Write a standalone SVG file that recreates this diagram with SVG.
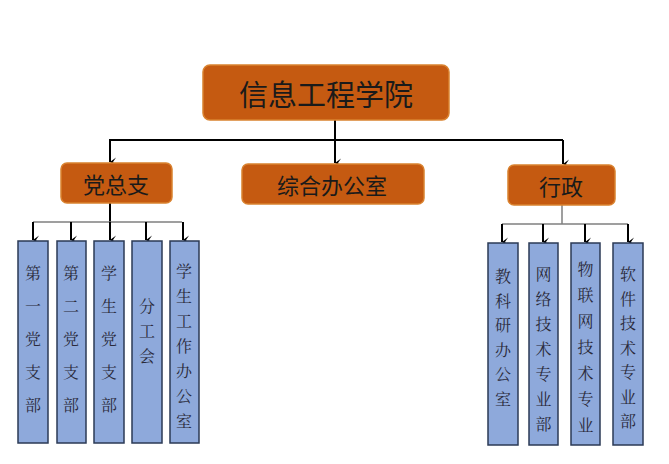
<svg xmlns="http://www.w3.org/2000/svg" width="669" height="464" viewBox="0 0 669 464">
<style>
.org{fill:#C55A11;stroke:#D9822F;stroke-width:1.5}
.leaf{fill:#8EA9DB;stroke:#2B3A55;stroke-width:1.5}
.big{font-family:"Noto Sans CJK SC",sans-serif;fill:#1a1a1a;text-anchor:middle;dominant-baseline:central}
.sm{font-family:"Noto Serif CJK SC","Noto Sans CJK SC",serif;font-size:16px;fill:#2a2a3a;text-anchor:middle;dominant-baseline:central}
.main{stroke:#000;stroke-width:2;fill:none}
.sub{stroke:#7f7f7f;stroke-width:1.5;fill:none}
.arr{stroke:#000;stroke-width:2;fill:none;marker-end:url(#ah)}
</style>
<defs>
<marker id="ah" markerWidth="10" markerHeight="10" refX="5" refY="8" orient="auto" markerUnits="userSpaceOnUse" viewBox="0 0 10 10">
<path d="M0.5,2 L5,8 L9.5,2 L5,5 Z" fill="#000"/>
</marker>
</defs>
<rect width="669" height="464" fill="#fff"/>
<g id="connectors">
<line class="main" x1="335" y1="120" x2="335" y2="140"/>
<line class="main" x1="109" y1="140" x2="563" y2="140"/>
<line class="arr" x1="110" y1="140" x2="110" y2="162"/>
<line class="arr" x1="335" y1="140" x2="335" y2="163"/>
<line class="arr" x1="563" y1="140" x2="563" y2="164"/>
<line class="main" x1="110" y1="203" x2="110" y2="222"/>
<line class="sub" x1="33" y1="222" x2="182" y2="222"/>
<line class="arr" x1="33" y1="222" x2="33" y2="240"/>
<line class="arr" x1="71" y1="222" x2="71" y2="240"/>
<line class="arr" x1="110" y1="222" x2="110" y2="240"/>
<line class="arr" x1="146" y1="222" x2="146" y2="240"/>
<line class="arr" x1="183" y1="222" x2="183" y2="240"/>
<line class="sub" x1="562" y1="205" x2="562" y2="224"/>
<line class="sub" x1="502" y1="224" x2="628" y2="224"/>
<line class="arr" x1="502" y1="224" x2="502" y2="242"/>
<line class="arr" x1="543" y1="224" x2="543" y2="242"/>
<line class="arr" x1="585" y1="224" x2="585" y2="242"/>
<line class="arr" x1="628" y1="224" x2="628" y2="242"/>
</g>
<g id="n-root">
<rect class="org" x="203" y="65" width="246" height="55" rx="7"/>
<text class="big" x="326" y="93" font-size="29">信息工程学院</text>
</g>
<g id="n-dzz">
<rect class="org" x="61" y="163" width="111" height="40" rx="6"/>
<text class="big" x="116" y="183" font-size="22">党总支</text>
</g>
<g id="n-zhbgs">
<rect class="org" x="242" y="164" width="182" height="40" rx="6"/>
<text class="big" x="332" y="184" font-size="22">综合办公室</text>
</g>
<g id="n-xz">
<rect class="org" x="508" y="165" width="107" height="40" rx="6"/>
<text class="big" x="561" y="185" font-size="22">行政</text>
</g>
<g id="n-l1">
<rect class="leaf" x="18" y="241" width="30" height="202"/>
<text class="sm"><tspan x="33" y="272">第</tspan><tspan x="33" y="305">一</tspan><tspan x="33" y="338">党</tspan><tspan x="33" y="371">支</tspan><tspan x="33" y="404">部</tspan></text>
</g>
<g id="n-l2">
<rect class="leaf" x="57" y="241" width="29" height="202"/>
<text class="sm"><tspan x="71" y="272">第</tspan><tspan x="71" y="305">二</tspan><tspan x="71" y="338">党</tspan><tspan x="71" y="371">支</tspan><tspan x="71" y="404">部</tspan></text>
</g>
<g id="n-l3">
<rect class="leaf" x="94" y="241" width="30" height="202"/>
<text class="sm"><tspan x="109" y="272">学</tspan><tspan x="109" y="305">生</tspan><tspan x="109" y="338">党</tspan><tspan x="109" y="371">支</tspan><tspan x="109" y="404">部</tspan></text>
</g>
<g id="n-l4">
<rect class="leaf" x="132" y="241" width="30" height="202"/>
<text class="sm"><tspan x="147" y="305">分</tspan><tspan x="147" y="330">工</tspan><tspan x="147" y="355">会</tspan></text>
</g>
<g id="n-l5">
<rect class="leaf" x="170" y="241" width="29" height="202"/>
<text class="sm"><tspan x="184" y="270">学</tspan><tspan x="184" y="295">生</tspan><tspan x="184" y="320">工</tspan><tspan x="184" y="345">作</tspan><tspan x="184" y="370">办</tspan><tspan x="184" y="395">公</tspan><tspan x="184" y="420">室</tspan></text>
</g>
<g id="n-r1">
<rect class="leaf" x="488" y="243" width="30" height="202"/>
<text class="sm"><tspan x="503" y="275">教</tspan><tspan x="503" y="299.5">科</tspan><tspan x="503" y="324">研</tspan><tspan x="503" y="348.5">办</tspan><tspan x="503" y="373">公</tspan><tspan x="503" y="397.5">室</tspan></text>
</g>
<g id="n-r2">
<rect class="leaf" x="529" y="243" width="29" height="202"/>
<text class="sm"><tspan x="543.5" y="273">网</tspan><tspan x="543.5" y="298">络</tspan><tspan x="543.5" y="323">技</tspan><tspan x="543.5" y="348">术</tspan><tspan x="543.5" y="373">专</tspan><tspan x="543.5" y="398">业</tspan><tspan x="543.5" y="423">部</tspan></text>
</g>
<g id="n-r3">
<rect class="leaf" x="571" y="243" width="29" height="202"/>
<text class="sm"><tspan x="585.5" y="268">物</tspan><tspan x="585.5" y="294">联</tspan><tspan x="585.5" y="320">网</tspan><tspan x="585.5" y="346">技</tspan><tspan x="585.5" y="372">术</tspan><tspan x="585.5" y="398">专</tspan><tspan x="585.5" y="424">业</tspan></text>
</g>
<g id="n-r4">
<rect class="leaf" x="613" y="243" width="30" height="202"/>
<text class="sm"><tspan x="628" y="273">软</tspan><tspan x="628" y="297.5">件</tspan><tspan x="628" y="322">技</tspan><tspan x="628" y="346.5">术</tspan><tspan x="628" y="371">专</tspan><tspan x="628" y="395.5">业</tspan><tspan x="628" y="420">部</tspan></text>
</g>
</svg>
